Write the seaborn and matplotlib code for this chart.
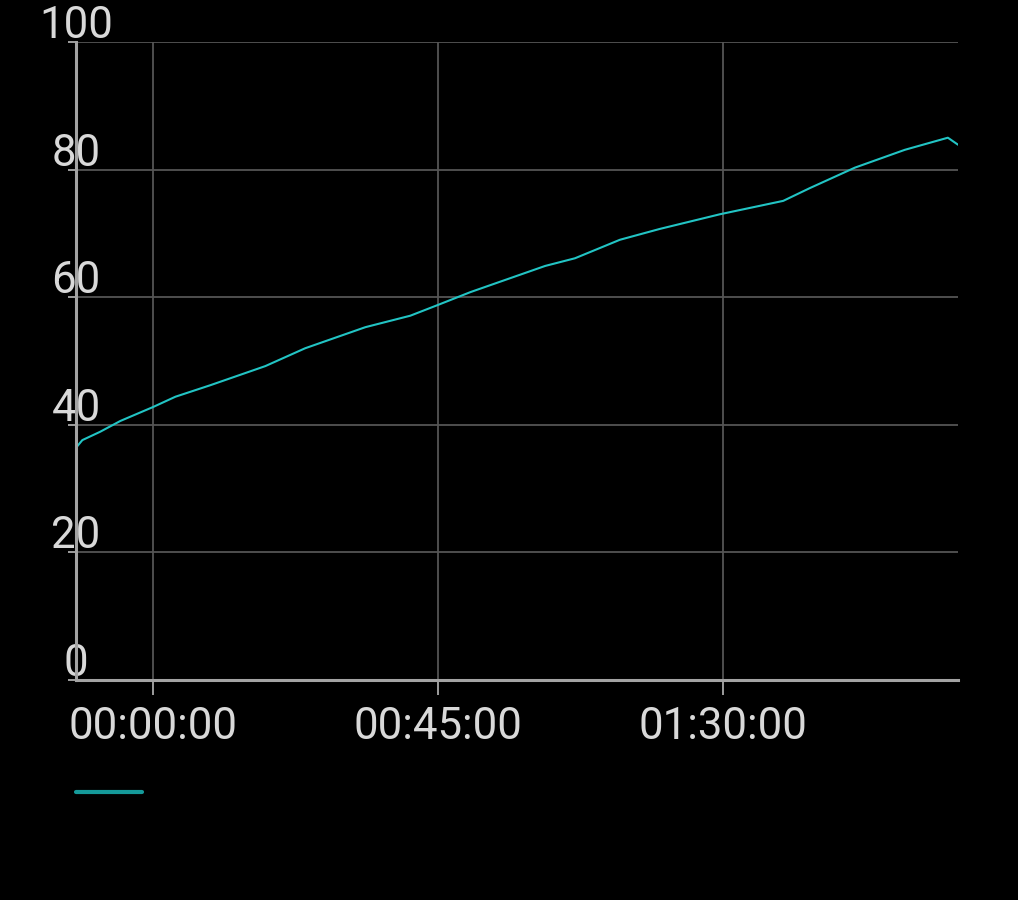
import numpy as np
import pandas as pd
import matplotlib
matplotlib.use("Agg")
import matplotlib.pyplot as plt
import matplotlib.transforms as mtransforms
from matplotlib.lines import Line2D
from matplotlib.ticker import FuncFormatter
import seaborn as sns

# values (x in minutes from 00:00:00)
minutes = [-12.2, -11.2, -8.4, -5.2, 0.0, 3.5, 9.0, 17.7, 24.0, 33.5, 40.6, 45.0,
           50.1, 61.9, 66.6, 73.7, 80.0, 89.5, 99.5, 103.7, 110.8, 118.7, 125.5, 127.1]
level = [36.4, 37.6, 38.9, 40.6, 42.8, 44.4, 46.2, 49.2, 52.0, 55.3, 57.1, 58.8,
         60.8, 64.9, 66.1, 69.0, 70.7, 73.0, 75.1, 77.1, 80.3, 83.1, 85.0, 83.9]
x_ticks = [0, 45, 90]
y_ticks = [0, 20, 40, 60, 80, 100]

df = pd.DataFrame({"minutes": minutes, "level": level})

sns.set_theme(style="dark", rc={
    "figure.facecolor": "black",
    "axes.facecolor": "black",
    "savefig.facecolor": "black",
})
plt.rcParams["font.family"] = ["Roboto", "DejaVu Sans"]

fig = plt.figure(figsize=(10.18, 9), dpi=100)
ax = fig.add_axes([76 / 1018, 1 - 680 / 900, (958 - 76) / 1018, (680 - 42) / 900])

sns.lineplot(data=df, x="minutes", y="level", ax=ax, color="#22c4c4", linewidth=1.5)

ax.set_xlim(minutes[0], minutes[-1])
ax.set_ylim(0, 100)
ax.set_xticks(x_ticks)
ax.set_yticks(y_ticks)
ax.xaxis.set_major_formatter(FuncFormatter(
    lambda v, p: "%02d:%02d:00" % (int(v) // 60, int(v) % 60)))
ax.set_xlabel("")
ax.set_ylabel("")

ax.grid(True, color="#555555", linewidth=1.3)
for s in ["top", "right"]:
    ax.spines[s].set_visible(False)
for s in ["left", "bottom"]:
    ax.spines[s].set_visible(True)
    ax.spines[s].set_color("#a3a3a3")
    ax.spines[s].set_linewidth(2.2)

ax.tick_params(axis="x", colors="#d9d9d9", labelsize=31.5, length=11, width=1.3,
               direction="out", pad=8, bottom=True)
ax.tick_params(axis="y", colors="#d9d9d9", labelsize=31.5, length=6, width=1.3,
               direction="out", pad=-6, left=True)
ax.tick_params(axis="x", color="#aaaaaa")
ax.tick_params(axis="y", color="#aaaaaa")

offset = mtransforms.ScaledTranslation(0, 4 / 100, fig.dpi_scale_trans)
for lab in ax.get_yticklabels():
    lab.set_horizontalalignment("center")
    lab.set_verticalalignment("baseline")
    lab.set_transform(lab.get_transform() + offset)

handle = Line2D([], [], color="#159a9a", linewidth=3)
ax.legend([handle], [""], loc="upper left", bbox_to_anchor=(0, -0.150),
          borderaxespad=0, borderpad=0, handlelength=1.6, handletextpad=0,
          frameon=False, fontsize=29.5)

fig.savefig("out.png", dpi=100, facecolor="black")
